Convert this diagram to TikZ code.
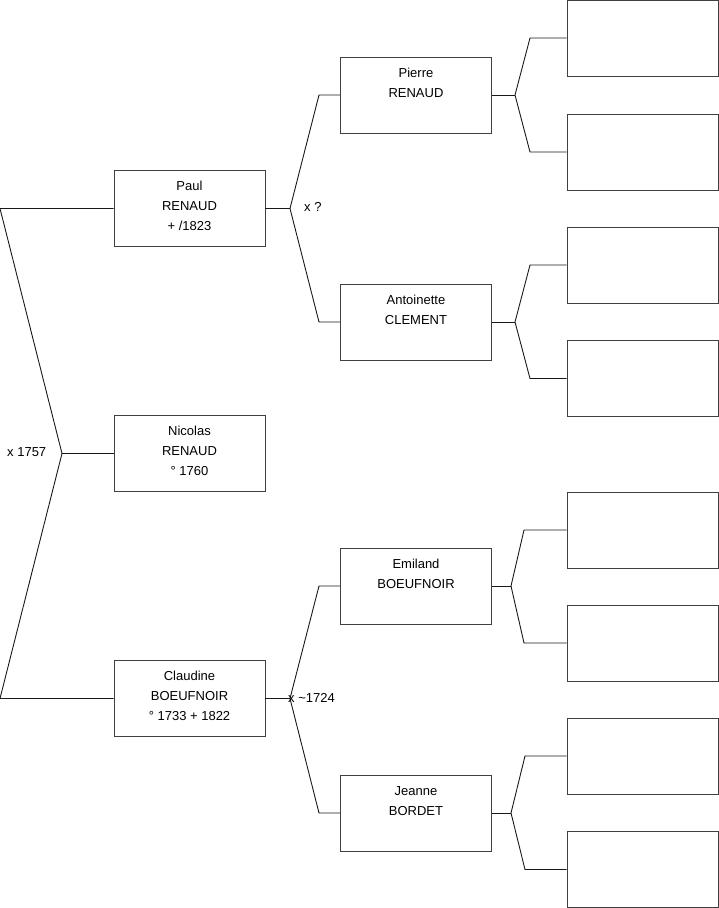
\documentclass[tikz,border=0pt]{standalone}
\usepackage{fontspec}
\setmainfont{Liberation Sans}

\begin{document}
\begin{tikzpicture}
    [x=1pt, y=-1pt,
    person/.style={draw=black!75, line width=0.9pt, inner sep=0pt,
        minimum width=151pt, minimum height=76pt},
    who/.style={anchor=north, yshift=-6.5pt, inner sep=0pt, align=center,
        font=\fontsize{13}{20}\selectfont},
    link/.style={draw=black!90, line width=0.9pt},
    wed/.style={anchor=west, inner sep=0pt, font=\fontsize{13}{16}\selectfont}]
    \useasboundingbox (0,0) rectangle (719,908);

        %% Generation 1
    \node[person, label={[who]north:{\strut Paul\\RENAUD\\+ /1823}}] (paul) at (189.5,208.5) {};
    \node[person, label={[who]north:{\strut Nicolas\\RENAUD\\\textdegree\ 1760}}] (nicolas) at (189.5,453.5) {};
    \node[person, label={[who]north:{\strut Claudine\\BOEUFNOIR\\\textdegree\ 1733 + 1822}}] (claudine) at (189.5,698.5) {};

    \coordinate (k0) at (62,453.5);
    \coordinate (k0a) at (0,208.5);
    \coordinate (k0b) at (0,698.5);
    \draw[link] (paul.west) -- (k0a) -- (k0) -- (k0b) -- (claudine.west);
    \draw[link] (k0) -- (nicolas.west);
    \node[wed] (w0) at (7,452.5) {x 1757};

        %% Generation 2
    \node[person, label={[who]north:{\strut Pierre\\RENAUD}}] (pierre) at (416,95) {};
    \node[person, label={[who]north:{\strut Antoinette\\CLEMENT}}] (antoinette) at (416,322) {};
    \node[person, label={[who]north:{\strut Emiland\\BOEUFNOIR}}] (emiland) at (416,586) {};
    \node[person, label={[who]north:{\strut Jeanne\\BORDET}}] (jeanne) at (416,813) {};

    \coordinate (k1) at (290,208.5);
    \coordinate (k1a) at (319,95);
    \coordinate (k1b) at (319,322);
    \draw[link] (paul.east) -- (k1);
    \draw[link] (pierre.west) -- (k1a) -- (k1) -- (k1b) -- (antoinette.west);
    \node[wed] (w1) at (304,207) {x ?};

    \coordinate (k2) at (290,698.5);
    \coordinate (k2a) at (319,586);
    \coordinate (k2b) at (319,813);
    \draw[link] (claudine.east) -- (k2);
    \draw[link] (emiland.west) -- (k2a) -- (k2) -- (k2b) -- (jeanne.west);
    \node[wed] (w2) at (288,698) {x \textasciitilde1724};

        %% Generation 3
    \node[person] (pierre1) at (642.5,38) {};
    \node[person] (pierre2) at (642.5,152) {};
    \node[person] (antoinette1) at (642.5,265) {};
    \node[person] (antoinette2) at (642.5,378.5) {};
    \node[person] (emiland1) at (642.5,530) {};
    \node[person] (emiland2) at (642.5,643) {};
    \node[person] (jeanne1) at (642.5,756) {};
    \node[person] (jeanne2) at (642.5,869.5) {};

    \coordinate (k3) at (515,95);
    \coordinate (k3a) at (530,38);
    \coordinate (k3b) at (530,152);
    \draw[link] (pierre.east) -- (k3);
    \draw[link] (pierre1.west) -- (k3a) -- (k3) -- (k3b) -- (pierre2.west);

    \coordinate (k4) at (515,322);
    \coordinate (k4a) at (530,265);
    \coordinate (k4b) at (530,378.5);
    \draw[link] (antoinette.east) -- (k4);
    \draw[link] (antoinette1.west) -- (k4a) -- (k4) -- (k4b) -- (antoinette2.west);

    \coordinate (k5) at (511,586);
    \coordinate (k5a) at (524,530);
    \coordinate (k5b) at (524,643);
    \draw[link] (emiland.east) -- (k5);
    \draw[link] (emiland1.west) -- (k5a) -- (k5) -- (k5b) -- (emiland2.west);

    \coordinate (k6) at (511,813);
    \coordinate (k6a) at (525,756);
    \coordinate (k6b) at (525,869.5);
    \draw[link] (jeanne.east) -- (k6);
    \draw[link] (jeanne1.west) -- (k6a) -- (k6) -- (k6b) -- (jeanne2.west);
\end{tikzpicture}
\end{document}
